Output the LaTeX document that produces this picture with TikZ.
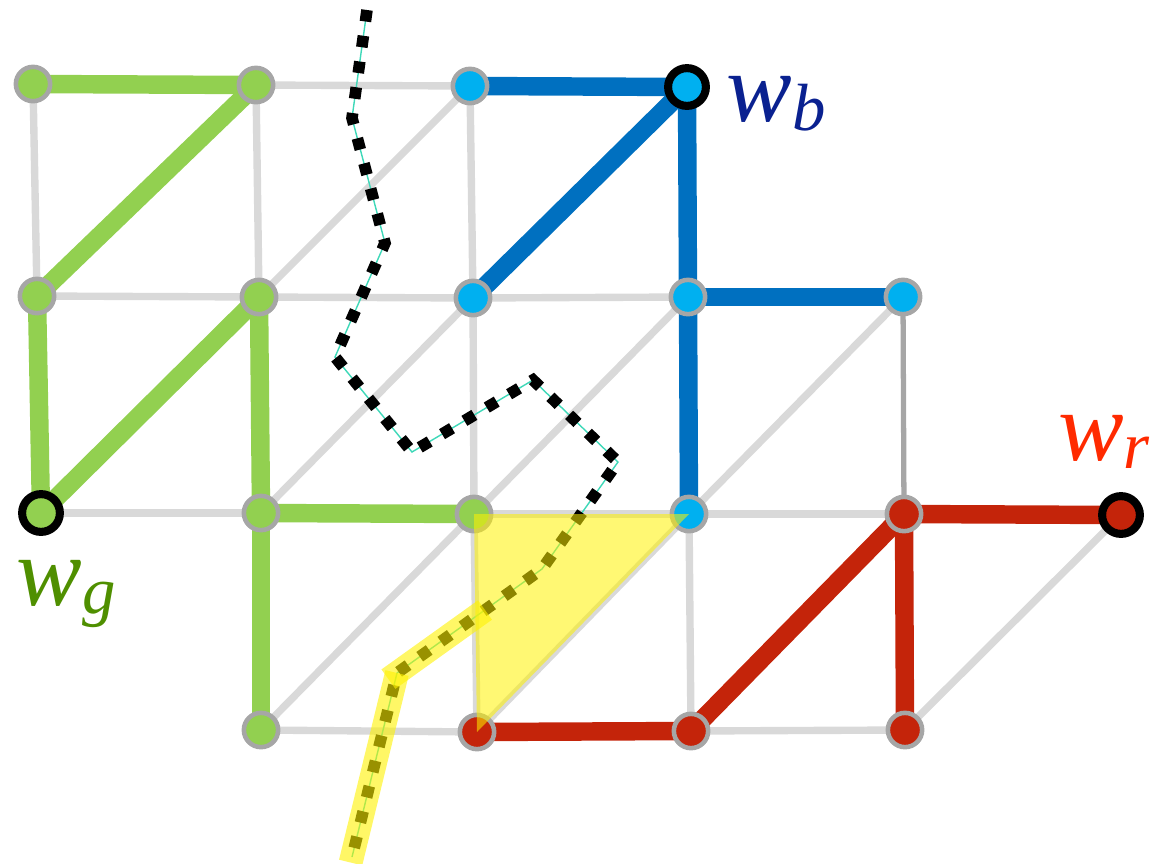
\documentclass[tikz,border=0pt]{standalone}
\usepackage{fontspec}
\newfontfamily\lserif{Liberation Serif}
\usetikzlibrary{backgrounds,calc}
\pgfdeclarelayer{bg}
\pgfdeclarelayer{fg}
\pgfsetlayers{bg,main,fg}
\definecolor{gline}{HTML}{D9D9D9}
\definecolor{dgline}{HTML}{A6A6A6}
\definecolor{grn}{HTML}{92D050}
\definecolor{bline}{HTML}{0070C0}
\definecolor{bfill}{HTML}{00B0F0}
\definecolor{rd}{HTML}{C4240A}
\definecolor{turq}{HTML}{3ED8B8}
\definecolor{lblb}{HTML}{0A2190}
\definecolor{lblr}{HTML}{FF2A00}
\definecolor{lblg}{HTML}{4F8F00}
\begin{document}
\begin{tikzpicture}[x=0.02cm,y=-0.02cm,
  vtx/.style={circle,inner sep=0pt,minimum size=19.5pt,draw=dgline,line width=2.6pt},
  gv/.style={vtx,fill=grn},
  bv/.style={vtx,fill=bfill},
  rv/.style={vtx,fill=rd},
  term/.style={draw=black,line width=4.6pt,minimum size=21.5pt},
  gedge/.style={draw=gline,line width=4.2pt},
  dgedge/.style={draw=dgline,line width=3pt},
  thick edge/.style={line width=10.5pt},
  gpath/.style={thick edge,draw=grn},
  bpath/.style={thick edge,draw=bline},
  rpath/.style={thick edge,draw=rd},
  walkline/.style={draw=turq,line width=0.8pt},
  walkdash/.style={draw=black,line width=6.6pt,dash pattern=on 6.6pt off 8.2pt},
  band/.style={draw=yellow,draw opacity=0.6,line width=13.6pt},
  tri/.style={fill=yellow,fill opacity=0.55},
  lbl/.style={inner sep=0pt,font=\lserif\itshape\fontsize{56}{56}\selectfont}
]
\useasboundingbox (0,0) rectangle (1170,863);
% vertices
\node[gv] (n00) at (33,84) {};
\node[gv] (n01) at (256,85) {};
\node[bv] (n02) at (470,86) {};
\node[bv,term] (n03) at (687,87) {};
\node[gv] (n10) at (37,296) {};
\node[gv] (n11) at (259,297) {};
\node[bv] (n12) at (473,298) {};
\node[bv] (n13) at (688,297) {};
\node[bv] (n14) at (903,297) {};
\node[gv,term] (n20) at (41,513) {};
\node[gv] (n21) at (261,513) {};
\node[gv] (n22) at (474,514) {};
\node[bv] (n23) at (689,514) {};
\node[rv] (n24) at (904,514) {};
\node[rv,term] (n25) at (1121,515) {};
\node[gv] (n31) at (261,730) {};
\node[rv] (n32) at (477,732) {};
\node[rv] (n33) at (691,731) {};
\node[rv] (n34) at (905,730) {};
% labels
\node[lbl,text=lblb] (lb) at (776,104) {w\raisebox{-5pt}{\fontsize{38}{38}\selectfont b}};
\node[lbl,text=lblr] (lr) at (1104,442) {w\raisebox{-5pt}{\fontsize{38}{38}\selectfont r}};
\node[lbl,text=lblg] (lg) at (66,594) {w\raisebox{-5pt}{\fontsize{38}{38}\selectfont g}};
\begin{pgfonlayer}{bg}
% grey edges
\foreach \a/\b in {n01/n02, n00/n10, n01/n11, n02/n12, n10/n11, n11/n12, n12/n13,
  n12/n22, n20/n21, n22/n23, n23/n24, n22/n32, n23/n33, n31/n32, n33/n34,
  n11/n02, n21/n12, n22/n13, n23/n14, n31/n22, n32/n23, n34/n25}
  \draw[gedge] (\a.center) -- (\b.center);
\draw[dgedge] (n14.center) -- (n24.center);
% green
\foreach \a/\b in {n00/n01, n01/n10, n10/n20, n20/n11, n11/n21, n21/n22, n21/n31}
  \draw[gpath] (\a.center) -- (\b.center);
% blue
\foreach \a/\b in {n02/n03, n03/n12, n03/n13, n13/n14, n13/n23}
  \draw[bpath] (\a.center) -- (\b.center);
% red
\foreach \a/\b in {n24/n25, n24/n33, n24/n34, n32/n33}
  \draw[rpath] (\a.center) -- (\b.center);
\end{pgfonlayer}
\begin{pgfonlayer}{fg}
% walk
\coordinate (p0) at (367,10);
\coordinate (p1) at (352,118);
\coordinate (p2) at (385,243);
\coordinate (p3) at (335,357);
\coordinate (p4) at (412,452);
\coordinate (p5) at (533,380);
\coordinate (p6) at (618,462);
\coordinate (p7) at (542,569);
\coordinate (p8) at (397,673);
\coordinate (p9) at (352,857);
\coordinate (q1) at (485,610);
\draw[walkline] (p0) -- (p1) -- (p2) -- (p3) -- (p4) -- (p5) -- (p6) -- (p7) -- (p8) -- (p9);
\draw[walkdash] (p0) -- (p1) -- (p2) -- (p3) -- (p4) -- (p5) -- (p6) -- (p7) -- (p8) -- (p9);
% highlights
\fill[tri] (n22.center) -- (n23.center) -- (n32.center) -- cycle;
\draw[band] ($(p8)!-6pt!(q1)$) -- (q1);
\draw[band] (p8) -- ($(p8)!1.03!(p9)$);
\end{pgfonlayer}
\end{tikzpicture}
\end{document}
